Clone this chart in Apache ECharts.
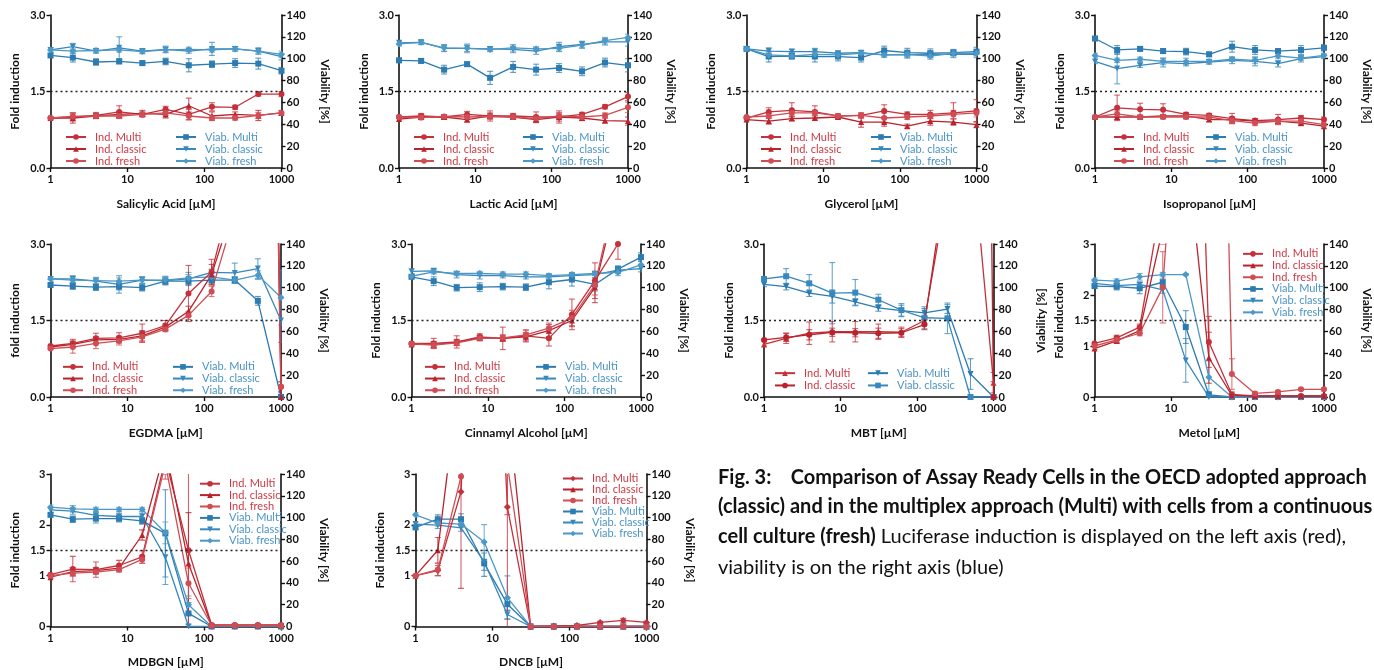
<!DOCTYPE html>
<html>
<head>
<meta charset="utf-8">
<script src="https://cdn.jsdelivr.net/npm/echarts@6/dist/echarts.min.js"></script>
<style>
  html, body { margin: 0; padding: 0; background: #fff; }
  #chart { width: 1374px; height: 670px; }
</style>
</head>
<body>
<div id="chart"></div>
<script>
// concentrations (µM), doubling dilution series
const conc = [1, 1.95, 3.9, 7.8, 15.6, 31.25, 62.5, 125, 250, 500, 1000];
const indNames = ['Ind. Multi', 'Ind. classic', 'Ind. fresh'];
const viabNames = ['Viab. Multi', 'Viab. classic', 'Viab. fresh'];
const foldTicksA = [0, 1.5, 3];
const foldTicksB = [0, 1, 1.5, 2, 3];

// rows: Multi, classic, fresh
const salicylicInd = [
  [0.98, 1.0, 1.03, 1.1, 1.05, 1.15, 1.05, 1.2, 1.19, 1.45, 1.45],
  [0.98, 0.98, 1.02, 1.05, 1.07, 1.05, 1.22, 1.02, 1.05, 1.03, 1.08],
  [0.98, 1.01, 1.02, 1.02, 1.05, 1.08, 1.02, 0.98, 0.98, 1.03, 1.08]];
const salicylicIndErr = [
  [0.02, 0.08, 0.06, 0.12, 0.05, 0.06, 0.1, 0.08, 0.04, 0.04, 0.05],
  [0.02, 0.1, 0.05, 0.06, 0.06, 0.07, 0.15, 0.08, 0.05, 0.1, 0.05],
  [0.02, 0.05, 0.04, 0.05, 0.04, 0.05, 0.08, 0.05, 0.04, 0.06, 0.04]];
const salicylicViab = [
  [103, 101, 97, 97.5, 96, 97.5, 94, 95, 96, 95.5, 89],
  [108, 111, 107, 110, 107, 108.5, 107, 109, 109, 107, 102],
  [108, 107, 107.5, 108, 106.5, 108, 108.5, 108, 109, 107, 104]];
const salicylicViabErr = [
  [2, 4, 3, 2, 2, 3, 6, 3, 4, 5, 3],
  [2, 3, 2, 10, 2, 3, 2, 6, 2, 3, 3],
  [2, 2, 2, 2, 2, 2, 2, 2, 2, 2, 3]];

const lacticInd = [
  [1.0, 1.02, 1.0, 1.05, 1.02, 1.02, 1.0, 1.0, 1.05, 1.2, 1.4],
  [0.96, 1.0, 1.0, 0.95, 1.02, 1.0, 0.95, 1.0, 0.98, 0.93, 0.92],
  [1.0, 0.99, 1.01, 1.0, 1.01, 1.0, 0.97, 1.02, 1.0, 1.03, 1.19]];
const lacticIndErr = [
  [0.02, 0.05, 0.04, 0.06, 0.1, 0.05, 0.1, 0.12, 0.04, 0.04, 0.08],
  [0.02, 0.05, 0.04, 0.05, 0.06, 0.04, 0.06, 0.08, 0.05, 0.05, 0.08],
  [0.02, 0.04, 0.03, 0.05, 0.05, 0.04, 0.05, 0.06, 0.04, 0.05, 0.1]];
const lacticViab = [
  [98.5, 98, 90, 95, 82.5, 92.5, 90, 91.5, 88.5, 96.5, 94],
  [114.5, 115, 109.5, 109.5, 109, 108.5, 107, 111, 113, 115.5, 115.5],
  [113.5, 115, 110, 109.5, 108.5, 110, 109, 109.5, 112.5, 116.5, 119.5]];
const lacticViabErr = [
  [2, 2, 4, 2, 6, 5, 5, 4, 4, 4, 6],
  [2, 2, 3, 3, 2, 3, 3, 4, 3, 3, 4],
  [2, 2, 3, 4, 2, 3, 2, 3, 3, 3, 3]];

const glycerolInd = [
  [0.98, 1.1, 1.13, 1.1, 1.02, 1.03, 1.12, 1.05, 1.05, 1.08, 1.12],
  [0.95, 0.92, 0.97, 0.98, 1.0, 0.9, 0.9, 0.82, 0.92, 0.9, 0.85],
  [1.0, 1.02, 1.08, 1.08, 1.02, 1.03, 0.98, 1.0, 1.02, 1.05, 1.08]];
const glycerolIndErr = [
  [0.02, 0.08, 0.15, 0.12, 0.04, 0.05, 0.12, 0.05, 0.08, 0.2, 0.22],
  [0.02, 0.06, 0.04, 0.04, 0.03, 0.1, 0.08, 0.04, 0.08, 0.06, 0.06],
  [0.02, 0.05, 0.06, 0.05, 0.03, 0.05, 0.1, 0.05, 0.05, 0.08, 0.08]];
const glycerolViab = [
  [109, 102, 102.5, 102, 102, 101, 107.5, 105.5, 105, 105.5, 106.5],
  [109, 107, 106.5, 106.5, 105, 105.5, 103.5, 103.5, 104, 104, 104],
  [109, 103.5, 102.5, 104, 103.5, 105, 103.5, 104, 102.5, 105, 105]];
const glycerolViabErr = [
  [2, 5, 3, 5, 4, 4, 4, 4, 4, 3, 4],
  [2, 3, 2, 3, 2, 2, 2, 3, 3, 3, 3],
  [2, 2, 2, 2, 2, 2, 2, 2, 3, 2, 2]];

const isopropanolInd = [
  [1.0, 1.18, 1.15, 1.14, 1.05, 1.03, 0.97, 0.93, 0.95, 0.98, 0.95],
  [1.0, 1.0, 1.0, 1.02, 1.02, 0.95, 0.95, 0.92, 0.92, 0.88, 0.82],
  [1.0, 1.06, 1.0, 1.0, 1.0, 1.0, 0.93, 0.88, 0.92, 0.92, 0.85]];
const isopropanolIndErr = [
  [0.02, 0.25, 0.12, 0.12, 0.04, 0.04, 0.1, 0.04, 0.1, 0.05, 0.05],
  [0.02, 0.05, 0.03, 0.03, 0.03, 0.04, 0.05, 0.04, 0.05, 0.05, 0.04],
  [0.02, 0.06, 0.04, 0.04, 0.04, 0.04, 0.06, 0.05, 0.04, 0.06, 0.04]];
const isopropanolViab = [
  [118.5, 108, 109, 107, 106.5, 104, 111, 108, 107, 108, 110],
  [97.5, 91, 94, 96.5, 95.5, 97, 98.5, 97.5, 95.5, 100, 102],
  [103, 98.5, 99.5, 97.5, 97.5, 97.5, 99.5, 98.5, 102.5, 100.5, 103]];
const isopropanolViabErr = [
  [2, 4, 2, 2, 3, 2, 5, 4, 2, 4, 3],
  [2, 14, 2, 4, 2, 2, 3, 4, 3, 3, 2],
  [2, 2, 2, 3, 3, 2, 2, 3, 2, 2, 2]];

const egdmaInd = [
  [1.0, 1.05, 1.15, 1.16, 1.25, 1.4, 2.03, 2.45, 4.2, 30, 0.2],
  [0.98, 1.03, 1.12, 1.13, 1.2, 1.37, 1.68, 2.4, 3.8, 28, 0.0],
  [0.95, 0.98, 1.05, 1.1, 1.18, 1.33, 1.6, 2.07, 3.6, 25, 0.2]];
const egdmaIndErr = [
  [0.02, 0.08, 0.1, 0.1, 0.18, 0.1, 0.55, 0.25, 0.5, 5, 0.1],
  [0.02, 0.06, 0.06, 0.06, 0.1, 0.06, 0.1, 0.2, 0.5, 5, 0.05],
  [0.02, 0.12, 0.1, 0.08, 0.1, 0.05, 0.08, 0.1, 0.5, 5, 0.1]];
const egdmaViab = [
  [102.5, 101.5, 100.5, 101, 100, 106, 106, 107, 107, 88, 0],
  [108, 108, 106, 103, 107, 106.5, 108, 114, 113.5, 117.5, 70],
  [108, 107, 106.5, 106, 107, 107, 109, 110, 107, 111.5, 91]];
const egdmaViabErr = [
  [2, 3, 3, 3, 3, 3, 3, 3, 3, 4, 0],
  [2, 3, 3, 8, 3, 4, 6, 3, 9, 9, 20],
  [2, 3, 3, 3, 3, 3, 3, 4, 3, 4, 25]];

const cinnamylInd = [
  [1.05, 1.05, 1.08, 1.18, 1.15, 1.2, 1.15, 1.62, 2.28, 3.0, 5],
  [1.03, 1.03, 1.07, 1.16, 1.15, 1.18, 1.3, 1.5, 2.15, 4.0, 6],
  [1.04, 1.02, 1.06, 1.15, 1.16, 1.22, 1.35, 1.55, 2.2, 4.2, 6]];
const cinnamylIndErr = [
  [0.03, 0.1, 0.12, 0.06, 0.22, 0.12, 0.15, 0.3, 0.35, 0.3, 0.5],
  [0.03, 0.06, 0.06, 0.05, 0.06, 0.08, 0.12, 0.12, 0.3, 0.4, 0.5],
  [0.03, 0.06, 0.05, 0.05, 0.06, 0.08, 0.1, 0.15, 0.2, 0.4, 0.5]];
const cinnamylViab = [
  [110, 106, 100, 100.5, 101, 100.5, 105, 107.5, 103, 117, 128],
  [115, 115.5, 112, 111, 111, 110, 110, 111, 112, 116, 117.5],
  [110.5, 114.5, 113, 113, 112.5, 112.5, 111, 112, 113, 114, 121]];
const cinnamylViabErr = [
  [2, 4, 3, 4, 3, 3, 6, 6, 6, 3, 4],
  [2, 2, 3, 3, 2, 2, 2, 2, 3, 3, 3],
  [2, 2, 2, 2, 2, 2, 2, 2, 2, 3, 4]];

// MBT: only Multi and classic
const mbtInd = [
  [1.03, 1.15, 1.25, 1.28, 1.28, 1.28, 1.27, 1.5, 4.1, 5.2, 0.28],
  [1.12, 1.17, 1.22, 1.27, 1.26, 1.25, 1.26, 1.42, 4.5, 40, 0]];
const mbtIndErr = [
  [0.03, 0.1, 0.22, 0.2, 0.2, 0.15, 0.1, 0.08, 0.5, 1, 0.2],
  [0.03, 0.08, 0.1, 0.08, 0.08, 0.1, 0.08, 0.1, 0.5, 5, 0.3]];
const mbtViab = [
  [103, 101, 95, 92, 87, 81.5, 79, 77, 80.5, 21, 0],
  [108, 110.5, 104, 95, 95.5, 89, 79.5, 72.5, 72, 0, 0]];
const mbtViabErr = [
  [2, 3, 3, 6, 3, 3, 5, 4, 4, 14, 0],
  [2, 7, 8, 28, 12, 5, 6, 10, 14, 0, 0]];

const metolInd = [
  [1.05, 1.16, 1.37, 4.0, 15, 1.08, 0.05, 0.02, 0.02, 0.02, 0.02],
  [0.95, 1.1, 1.3, 3.3, 5, 0.77, 0.03, 0.02, 0.02, 0.02, 0.02],
  [1.0, 1.12, 1.25, 2.15, 8.5, 20, 0.45, 0.07, 0.1, 0.15, 0.15]];
const metolIndErr = [
  [0.02, 0.05, 0.06, 0.3, 1, 0.5, 0.05, 0.02, 0.02, 0.02, 0.02],
  [0.02, 0.04, 0.05, 0.3, 1, 0.5, 0.03, 0.02, 0.02, 0.02, 0.02],
  [0.02, 0.06, 0.05, 0.7, 1, 2, 0.3, 0.03, 0.03, 0.02, 0.03]];
const metolViab = [
  [101.5, 101, 99.5, 105, 64, 2, 0, 0, 0, 0, 0],
  [104, 102, 103, 98, 33.5, 0, 0, 0, 0, 0, 0],
  [107, 106, 110, 112, 112, 18, 0, 0, 0, 0, 0]];
const metolViabErr = [
  [2, 3, 5, 3, 15, 3, 0, 0, 0, 0, 0],
  [2, 2, 2, 3, 20, 0, 0, 0, 0, 0, 0],
  [2, 2, 3, 2, 1, 15, 0, 0, 0, 0, 0]];

const mdbgnInd = [
  [1.02, 1.13, 1.12, 1.2, 1.37, 3.3, 1.5, 0.03, 0.03, 0.03, 0.03],
  [0.97, 1.08, 1.1, 1.15, 1.8, 3.5, 1.24, 0.02, 0.02, 0.02, 0.02],
  [1.0, 1.05, 1.07, 1.12, 1.32, 3.2, 0.85, 0.02, 0.02, 0.02, 0.02]];
const mdbgnIndErr = [
  [0.02, 0.25, 0.15, 0.1, 0.12, 0.3, 2.0, 0.02, 0.02, 0.02, 0.02],
  [0.02, 0.08, 0.06, 0.05, 0.1, 0.3, 1.0, 0.01, 0.01, 0.01, 0.01],
  [0.02, 0.06, 0.04, 0.05, 0.08, 0.3, 0.3, 0.01, 0.01, 0.01, 0.01]];
const mdbgnViab = [
  [102.5, 98.5, 99, 99, 97, 85.5, 12, 0, 0, 0, 0],
  [107, 106, 102, 101, 101, 63.5, 0, 0, 0, 0, 0],
  [109.5, 108, 107.5, 107.5, 107.5, 86, 20, 0, 0, 0, 0]];
const mdbgnViabErr = [
  [2, 3, 4, 3, 3, 40, 10, 0, 0, 0, 0],
  [2, 3, 3, 3, 3, 25, 0, 0, 0, 0, 0],
  [2, 3, 2, 2, 2, 10, 8, 0, 0, 0, 0]];

const dncbInd = [
  [1.0, 1.1, 2.65, 12, 2.35, 0, 0.01, 0.02, 0.08, 0.12, 0.08],
  [1.0, 1.5, 5.2, 15, 4.4, 0, 0, 0, 0, 0, 0],
  [1.0, 1.12, 2.95, 10, 3.2, 0, 0, 0, 0, 0, 0]];
const dncbIndErr = [
  [0.02, 0.1, 1.9, 1, 2.4, 0, 0.01, 0.02, 0.02, 0.04, 0.02],
  [0.02, 0.25, 1, 1, 1, 0, 0, 0, 0, 0, 0],
  [0.02, 0.12, 0.3, 1, 1, 0, 0, 0, 0, 0, 0]];
const dncbViab = [
  [91, 98.5, 98.5, 58, 20.5, 0, 0, 0, 0, 0, 0],
  [94, 93, 90.5, 59.5, 11, 0, 0, 0, 0, 0, 0],
  [102.5, 95, 94, 77.5, 26.5, 0, 0, 0, 0, 0, 0]];
const dncbViabErr = [
  [2, 4, 5, 12, 6, 0, 0, 0, 0, 0, 0],
  [2, 3, 3, 8, 4, 0, 0, 0, 0, 0, 0],
  [2, 3, 3, 16, 20, 0, 0, 0, 0, 0, 0]];

const FONT = 'Lato, "Open Sans", sans-serif';
const RED = ['#c5303a', '#b9232c', '#d04d55'];
const BLUE = ['#2c7bb1', '#3788bc', '#4c98c7'];
const RED_TXT = '#cc3a44';
const BLUE_TXT = '#4a93c4';
const DOWN = 'path://M0,0 L10,0 L5,8.66 Z';
const SYM_IND = ['circle', 'triangle', 'circle'];
const SYM_VIAB = ['rect', DOWN, 'diamond'];

const panels = [
  { rect: [50.5, 15, 231, 153], x: 'Salicylic Acid [µM]', y: 'Fold induction', ticks: foldTicksA,
    ind: salicylicInd, indErr: salicylicIndErr, viab: salicylicViab, viabErr: salicylicViabErr,
    legends: [[65, 131, 12, 'ind'], [175, 131, 12, 'viab']] },
  { rect: [399, 15, 229, 153], x: 'Lactic Acid [µM]', y: 'Fold induction', ticks: foldTicksA,
    ind: lacticInd, indErr: lacticIndErr, viab: lacticViab, viabErr: lacticViabErr,
    legends: [[413, 131, 12, 'ind'], [522, 131, 12, 'viab']] },
  { rect: [746.5, 15, 230, 153], x: 'Glycerol [µM]', y: 'Fold induction', ticks: foldTicksA,
    ind: glycerolInd, indErr: glycerolIndErr, viab: glycerolViab, viabErr: glycerolViabErr,
    legends: [[760, 131, 12, 'ind'], [870, 131, 12, 'viab']] },
  { rect: [1095, 15, 230, 153], x: 'Isopropanol [µM]', y: 'Fold induction', ticks: foldTicksA,
    ind: isopropanolInd, indErr: isopropanolIndErr, viab: isopropanolViab, viabErr: isopropanolViabErr,
    legends: [[1113, 131, 12, 'ind'], [1205, 131, 12, 'viab']] },
  { rect: [50.5, 244, 230.5, 153], x: 'EGDMA [µM]', y: 'fold induction', ticks: foldTicksA,
    ind: egdmaInd, indErr: egdmaIndErr, viab: egdmaViab, viabErr: egdmaViabErr,
    legends: [[62, 361, 11.7, 'ind'], [172, 361, 11.7, 'viab']] },
  { rect: [411.5, 244, 229.5, 153], x: 'Cinnamyl Alcohol [µM]', y: 'Fold induction', ticks: foldTicksA,
    ind: cinnamylInd, indErr: cinnamylIndErr, viab: cinnamylViab, viabErr: cinnamylViabErr,
    legends: [[424, 361, 11.7, 'ind'], [535, 361, 11.7, 'viab']] },
  { rect: [764, 244, 229.5, 153], x: 'MBT [µM]', y: 'Fold induction', ticks: foldTicksA,
    ind: mbtInd, indErr: mbtIndErr, viab: mbtViab, viabErr: mbtViabErr,
    indSym: ['triangle', 'circle'], viabSym: [DOWN, 'rect'], rightFlip: true,
    legends: [[774, 367, 12.3, 'ind'], [867, 367, 12.3, 'viab']] },
  { rect: [1094.5, 244, 230, 153], x: 'Metol [µM]', y: 'Fold induction', ticks: foldTicksB,
    ind: metolInd, indErr: metolIndErr, viab: metolViab, viabErr: metolViabErr,
    legends: [[1242, 248, 11.7, 'all']] },
  { rect: [50.5, 474, 230.5, 152.5], x: 'MDBGN [µM]', y: 'Fold induction', ticks: foldTicksB,
    ind: mdbgnInd, indErr: mdbgnIndErr, viab: mdbgnViab, viabErr: mdbgnViabErr,
    legends: [[199, 478, 11.4, 'all']] },
  { rect: [415.5, 474, 231, 152.5], x: 'DNCB [µM]', y: 'Fold induction', ticks: foldTicksB,
    ind: dncbInd, indErr: dncbIndErr, viab: dncbViab, viabErr: dncbViabErr,
    indSym: ['diamond', 'triangle', 'circle'],
    legends: [[562, 473, 10.8, 'all']] }
];

function errorBar(params, api) {
  const x = api.value(0);
  const lo = api.coord([x, api.value(1)]);
  const hi = api.coord([x, api.value(2)]);
  const style = { stroke: api.visual('color'), lineWidth: 1.1, opacity: 0.75 };
  return { type: 'group', children: [
    { type: 'line', shape: { x1: lo[0], y1: lo[1], x2: hi[0], y2: hi[1] }, style },
    { type: 'line', shape: { x1: lo[0] - 3, y1: lo[1], x2: lo[0] + 3, y2: lo[1] }, style },
    { type: 'line', shape: { x1: hi[0] - 3, y1: hi[1], x2: hi[0] + 3, y2: hi[1] }, style }
  ] };
}

const grid = [], xAxis = [], yAxis = [], series = [], legend = [];
const axisLine = { show: true, onZero: false, lineStyle: { color: '#111', width: 1.6 } };
const tick = { show: true, length: 4, lineStyle: { color: '#111', width: 1.4 } };
const lbl = { color: '#111', fontFamily: FONT, fontWeight: 'bold', fontSize: 11 };
const nameStyle = { color: '#111', fontFamily: FONT, fontWeight: 'bold', fontSize: 12 };

panels.forEach((p, i) => {
  grid.push({ left: p.rect[0], top: p.rect[1], width: p.rect[2], height: p.rect[3] });
  xAxis.push({
    type: 'log', logBase: 10, min: 1, max: 1000, gridIndex: i,
    name: p.x, nameLocation: 'middle', nameGap: 30, nameTextStyle: nameStyle,
    axisLine, axisTick: tick, splitLine: { show: false },
    axisLabel: Object.assign({ margin: 6, formatter: v => String(Math.round(v)) }, lbl)
  });
  const fixedTicks = p.ticks === foldTicksA;
  yAxis.push({
    type: 'value', min: 0, max: 3, gridIndex: i, position: 'left',
    interval: fixedTicks ? 1.5 : undefined,
    name: p.y, nameLocation: 'middle', nameGap: 29, nameRotate: 90, nameTextStyle: nameStyle,
    axisLine, splitLine: { show: false },
    axisTick: fixedTicks ? tick : Object.assign({ customValues: p.ticks }, tick),
    axisLabel: fixedTicks
      ? Object.assign({ margin: 5, formatter: v => v.toFixed(1) }, lbl)
      : Object.assign({ margin: 5, customValues: p.ticks }, lbl)
  });
  yAxis.push({
    type: 'value', min: 0, max: 140, interval: 20, gridIndex: i, position: 'right',
    name: 'Viability [%]', nameLocation: 'middle',
    nameGap: p.rightFlip ? 42 : 37, nameRotate: p.rightFlip ? 90 : -90, nameTextStyle: nameStyle,
    axisLine, axisTick: tick, splitLine: { show: false },
    axisLabel: Object.assign({ margin: 5 }, lbl)
  });

  const nInd = p.ind.length;
  const iNames = nInd === 2 ? ['Ind. Multi', 'Ind. classic'] : indNames;
  const vNames = nInd === 2 ? ['Viab. Multi', 'Viab. classic'] : viabNames;
  const iSym = p.indSym || SYM_IND;
  const vSym = p.viabSym || SYM_VIAB;

  const groups = [
    { names: iNames, vals: p.ind, errs: p.indErr, sym: iSym, col: RED, y: 2 * i },
    { names: vNames, vals: p.viab, errs: p.viabErr, sym: vSym, col: BLUE, y: 2 * i + 1 }
  ];
  // viability first so induction is drawn on top
  [groups[1], groups[0]].forEach(g => {
    g.vals.forEach((row, k) => {
      const color = g.col[k];
      series.push({
        type: 'custom', name: 'err', xAxisIndex: i, yAxisIndex: g.y, clip: true, silent: true,
        itemStyle: { color }, renderItem: errorBar, z: 2,
        data: conc.map((c, j) => [c, row[j] - g.errs[k][j], row[j] + g.errs[k][j]])
                  .filter((d, j) => g.errs[k][j] > 0)
      });
      const s = {
        type: 'line', name: g.names[k] + '#' + i, xAxisIndex: i, yAxisIndex: g.y,
        clip: true, symbol: g.sym[k], symbolSize: g.sym[k] === 'diamond' ? 7 : 6,
        color, lineStyle: { width: 1.3, color }, itemStyle: { color }, z: 3,
        data: conc.map((c, j) => [c, row[j]])
      };
      if (g.y === 2 * i && k === 0) {
        s.markLine = {
          silent: true, symbol: 'none', label: { show: false },
          lineStyle: { color: '#222', type: [2, 3], width: 1.4 },
          data: [{ yAxis: 1.5 }]
        };
      }
      series.push(s);
    });
  });

  p.legends.forEach(([left, top, pitch, kind]) => {
    let items = [];
    if (kind !== 'viab') items = items.concat(iNames.map(n => ({ name: n + '#' + i, textStyle: { color: RED_TXT } })));
    if (kind !== 'ind') items = items.concat(vNames.map(n => ({ name: n + '#' + i, textStyle: { color: BLUE_TXT } })));
    legend.push({
      left, top, orient: 'vertical', padding: 0, itemGap: 0,
      itemWidth: 20, itemHeight: 7, selectedMode: false,
      formatter: n => n.split('#')[0],
      textStyle: { fontFamily: FONT, fontSize: 11, lineHeight: pitch, height: pitch, padding: [0, 0, 0, 4] },
      data: items
    });
  });
});

const capFont = { fontFamily: FONT, fontSize: 20, fill: '#111' };
const graphic = [
  { type: 'text', x: 718, y: 478, style: Object.assign({ text: 'Fig. 3:    Comparison of Assay Ready Cells in the OECD adopted approach', fontWeight: 'bold', verticalAlign: 'middle' }, capFont) },
  { type: 'text', x: 718, y: 507, style: Object.assign({ text: '(classic) and in the multiplex approach (Multi) with cells from a continuous', fontWeight: 'bold', verticalAlign: 'middle' }, capFont) },
  { type: 'text', x: 718, y: 537, style: Object.assign({
      text: '{b|cell culture (fresh)} Luciferase induction is displayed on the left axis (red),', verticalAlign: 'middle',
      rich: { b: { fontFamily: FONT, fontSize: 20, fontWeight: 'bold', fill: '#111' } } }, capFont) },
  { type: 'text', x: 718, y: 568, style: Object.assign({ text: 'viability is on the right axis (blue)', verticalAlign: 'middle' }, capFont) }
];

const chart = echarts.init(document.getElementById('chart'), null, { renderer: 'canvas' });
chart.setOption({
  animation: false,
  backgroundColor: '#fff',
  textStyle: { fontFamily: FONT },
  grid, xAxis, yAxis, series, legend, graphic
});
</script>
</body>
</html>
